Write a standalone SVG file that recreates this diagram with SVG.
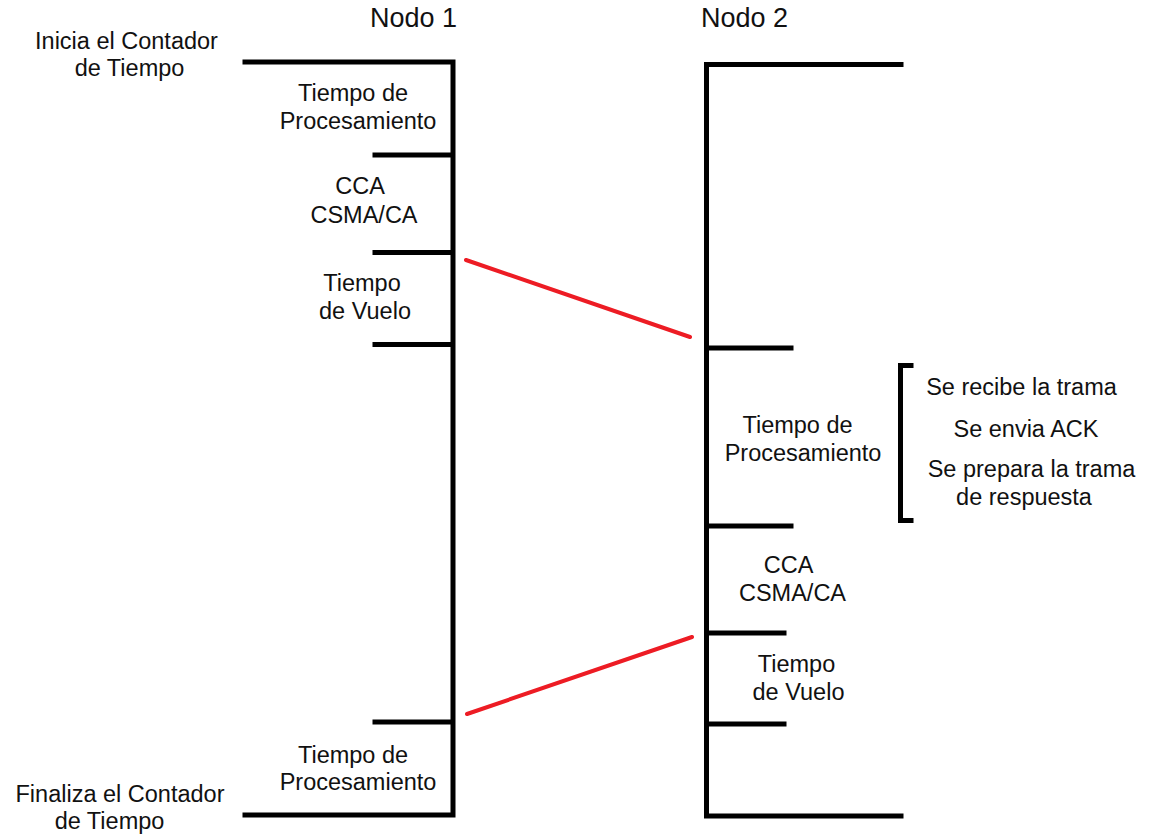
<svg xmlns="http://www.w3.org/2000/svg" width="1150" height="834" viewBox="0 0 1150 834">
<style>
.ln{stroke:#000;stroke-width:5;fill:none;stroke-linecap:square}
.rd{stroke:#ED1C24;stroke-width:4;fill:none;stroke-linecap:round}
text{font-family:"Liberation Sans",Arial,sans-serif;font-size:23.5px;fill:#111;text-anchor:middle}
.t{font-size:27px}
</style>
<rect width="1150" height="834" fill="#fff"/>
<g id="nodo1">
<text class="t" x="413.5" y="27">Nodo 1</text>
<path class="ln" d="M245 62H453V815H245M375 155H453M375 252.5H453M375 344.5H453M375 722H453"/>
<text x="353" y="101">Tiempo de</text>
<text x="358" y="129">Procesamiento</text>
<text x="360" y="194">CCA</text>
<text x="364" y="222.5">CSMA/CA</text>
<text x="362" y="291">Tiempo</text>
<text x="365" y="319">de Vuelo</text>
<text x="353" y="763">Tiempo de</text>
<text x="358" y="790">Procesamiento</text>
</g>
<g id="inicia">
<text x="126.5" y="49">Inicia el Contador</text>
<text x="129.5" y="76">de Tiempo</text>
</g>
<g id="finaliza">
<text x="120" y="801.5">Finaliza el Contador</text>
<text x="109.5" y="829">de Tiempo</text>
</g>
<g id="nodo2">
<text class="t" x="744.5" y="27">Nodo 2</text>
<path class="ln" d="M901 64.5H706.5V816H901M706.5 348H791M706.5 526H791M706.5 633H784M706.5 724H784"/>
<text x="797.5" y="433">Tiempo de</text>
<text x="803" y="461">Procesamiento</text>
<text x="788.5" y="573">CCA</text>
<text x="792.5" y="601">CSMA/CA</text>
<text x="796.5" y="671.5">Tiempo</text>
<text x="798.5" y="700">de Vuelo</text>
</g>
<g id="acciones">
<path class="ln" d="M911 365.5H900.5V520.5H911"/>
<text x="1021.5" y="395">Se recibe la trama</text>
<text x="1026" y="437">Se envia ACK</text>
<text x="1031.5" y="476.5">Se prepara la trama</text>
<text x="1024" y="505">de respuesta</text>
</g>
<g id="connectors">
<line class="rd" x1="466" y1="260" x2="690" y2="337"/>
<line class="rd" x1="467" y1="714" x2="692" y2="637"/>
</g>
</svg>
